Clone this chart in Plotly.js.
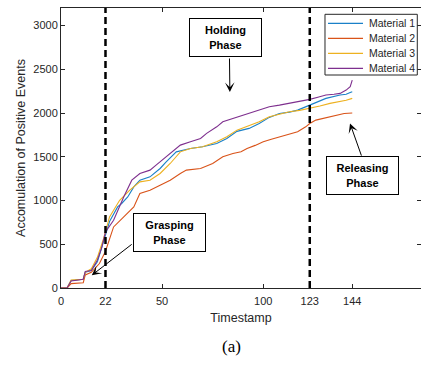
<!DOCTYPE html>
<html>
<head>
<meta charset="utf-8">
<script src="https://cdn.plot.ly/plotly-3.0.1.min.js"></script>
<style>html,body{margin:0;padding:0;background:#fff;}#chart{width:421px;height:366px;}</style>
</head>
<body>
<div id="chart"></div>
<script>
// Series names
const seriesNames = ["Material 1", "Material 2", "Material 3", "Material 4"];

// Material 1 (blue)
const m1x = [0, 3, 5, 11, 12, 15, 18, 21, 24, 28, 30, 33, 36, 39, 44, 49, 52, 57, 64, 70, 77, 82, 87, 93, 98, 103, 108, 113, 117, 123, 127, 131, 138, 141, 143, 144];
const m1y = [0, 0, 85, 100, 180, 200, 300, 520, 760, 927, 966, 1041, 1156, 1232, 1270, 1366, 1442, 1556, 1595, 1614, 1652, 1709, 1790, 1824, 1880, 1950, 1995, 2010, 2033, 2090, 2130, 2167, 2205, 2215, 2235, 2243];

// Material 2 (red)
const m2x = [0, 3, 5, 11, 12, 15, 19, 22, 26, 31, 36, 39, 44, 49, 54, 59, 62, 69, 75, 80, 85, 89, 92, 96, 100, 104, 108, 112, 117, 121, 123, 126, 130, 133, 137, 140, 144];
const m2y = [0, 0, 50, 60, 150, 180, 280, 420, 698, 812, 927, 1080, 1118, 1175, 1232, 1309, 1347, 1366, 1423, 1499, 1538, 1556, 1595, 1630, 1671, 1700, 1728, 1750, 1785, 1842, 1880, 1919, 1940, 1957, 1975, 1995, 2000];

// Material 3 (yellow)
const m3x = [0, 3, 5, 11, 12, 15, 18, 21, 24, 29, 34, 39, 44, 49, 54, 59, 64, 70, 77, 82, 87, 93, 98, 103, 108, 113, 118, 123, 128, 133, 138, 141, 144];
const m3y = [0, 0, 90, 100, 180, 220, 350, 560, 812, 1003, 1118, 1213, 1232, 1309, 1423, 1556, 1595, 1614, 1671, 1728, 1804, 1861, 1900, 1957, 1990, 2014, 2030, 2053, 2080, 2110, 2130, 2145, 2167];

// Material 4 (purple)
const m4x = [0, 3, 5, 11, 12, 15, 18, 20, 22, 26, 31, 35, 39, 44, 47, 51, 54, 59, 64, 69, 72, 77, 80, 84, 88, 93, 98, 103, 108, 113, 118, 123, 127, 131, 135, 138, 141, 143, 144];
const m4y = [0, 0, 80, 100, 190, 200, 320, 450, 640, 775, 1041, 1232, 1309, 1347, 1404, 1480, 1538, 1633, 1671, 1709, 1767, 1842, 1899, 1930, 1957, 1995, 2033, 2071, 2090, 2110, 2135, 2156, 2180, 2205, 2215, 2224, 2262, 2300, 2376];

// Phase boundaries
const phaseX = [22, 123];

// Axis ticks
const xTicks = [0, 22, 50, 100, 123, 144];
const yTicks = [0, 500, 1000, 1500, 2000, 2500, 3000];

const colors = ["#1a80c8", "#D95319", "#EDB120", "#7E2F8E"];
const xs = [m1x, m2x, m3x, m4x];
const ys = [m1y, m2y, m3y, m4y];

const traces = seriesNames.map((n, i) => ({
  x: xs[i], y: ys[i], name: n, type: "scatter", mode: "lines",
  line: {color: colors[i], width: 1.1}, showlegend: false
}));

const fam = "Liberation Sans, Arial, Helvetica, sans-serif";
const axisFont = {family: fam, size: 11, color: "#262626"};
const boxFont = {family: fam, size: 11, color: "#000", weight: "bold"};

const shapes = phaseX.map(v => ({
  type: "line", xref: "x", yref: "y", x0: v, x1: v, y0: 0, y1: 3200,
  line: {color: "#000", width: 2.5, dash: "7px,4px"}
}));

function box(text, x, y) {
  return {text: text, x: x, y: y, xref: "x", yref: "y", showarrow: false,
    font: boxFont, bordercolor: "#000", borderwidth: 1, borderpad: 2,
    bgcolor: "#fff", width: 67, height: 33, align: "center", valign: "middle"};
}
function arrow(x, y, ax, ay) {
  return {text: "", x: x, y: y, ax: ax, ay: ay, xref: "x", yref: "y", axref: "x", ayref: "y",
    showarrow: true, arrowhead: 3, arrowsize: 1.6, arrowwidth: 1, arrowcolor: "#000", standoff: 0, startstandoff: 0};
}

const annotations = [
  box("Holding<br>Phase", 81.3, 2858),
  arrow(83.5, 2240, 83.3, 2640),
  box("Grasping<br>Phase", 53.6, 632),
  arrow(15.2, 145, 35.7, 512),
  box("Releasing<br>Phase", 149.3, 1290),
  arrow(142.9, 1881, 148.8, 1496),
  {text: "(a)", xref: "paper", yref: "paper", x: 0.474, y: -0.21, xanchor: "center", yanchor: "middle",
   showarrow: false, font: {family: "Liberation Serif, Times New Roman, serif", size: 17, color: "#000"}}
];

// Legend box (MATLAB-style), built from the series names and colours
const legX0 = 0.7333, legX1 = 0.9897, legY0 = 0.7607, legY1 = 0.9775;
shapes.push({type: "rect", xref: "paper", yref: "paper", x0: legX0, x1: legX1, y0: legY0, y1: legY1,
  line: {color: "#262626", width: 1}, fillcolor: "#fff", layer: "above"});
seriesNames.forEach((n, i) => {
  const yy = 0.9454 - i * 0.0536;
  shapes.push({type: "line", xref: "paper", yref: "paper", x0: 0.7417, x1: 0.8389, y0: yy, y1: yy,
    line: {color: colors[i], width: 1.3}, layer: "above"});
  annotations.push({text: n, xref: "paper", yref: "paper", x: 0.849, y: yy, xanchor: "left", yanchor: "middle",
    showarrow: false, font: {family: fam, size: 10.5, color: "#262626"}});
});

const layout = {
  width: 421, height: 366,
  margin: {l: 61, r: 0, t: 8, b: 78},
  paper_bgcolor: "#fff", plot_bgcolor: "#fff",
  showlegend: false,
  xaxis: {range: [0, 178], tickvals: xTicks, ticktext: xTicks.map(String), ticks: "inside", ticklen: 4,
    tickcolor: "#262626", showline: true, linecolor: "#262626", linewidth: 1, mirror: "ticks",
    showgrid: false, zeroline: false, tickfont: axisFont, ticklabelstandoff: 3,
    title: {text: "Timestamp", font: {family: fam, size: 12.5, color: "#262626"}, standoff: 7}},
  yaxis: {range: [0, 3200], tickvals: yTicks, ticktext: yTicks.map(String), ticks: "inside", ticklen: 4,
    tickcolor: "#262626", showline: true, linecolor: "#262626", linewidth: 1, mirror: "ticks",
    showgrid: false, zeroline: false, tickfont: axisFont,
    title: {text: "Accomulation of Positive Events", font: {family: fam, size: 12.5, color: "#262626"}, standoff: 4}},
  shapes: shapes,
  annotations: annotations
};

Plotly.newPlot("chart", traces, layout, {displayModeBar: false, staticPlot: true});
</script>
</body>
</html>
